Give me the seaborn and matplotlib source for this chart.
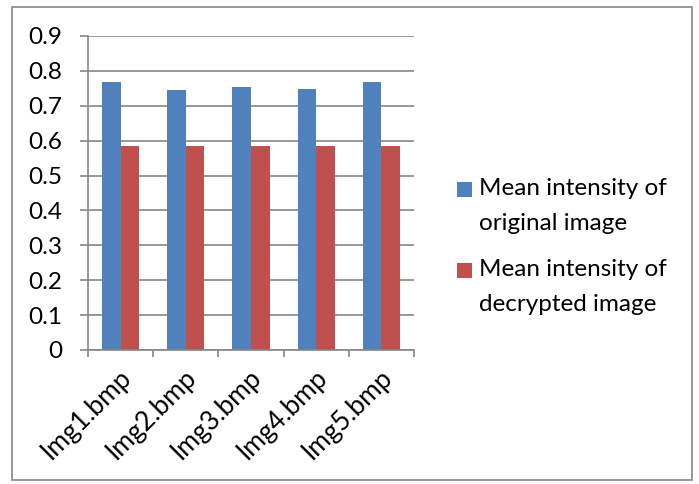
import matplotlib
matplotlib.use("Agg")
import matplotlib.pyplot as plt
import matplotlib.transforms as mtransforms
from matplotlib.patches import Rectangle
import seaborn as sns
import pandas as pd

# Mean pixel intensity per test image, before encryption and after decryption
images = ["Img1.bmp", "Img2.bmp", "Img3.bmp", "Img4.bmp", "Img5.bmp"]
original_mean = [0.768, 0.745, 0.753, 0.749, 0.768]
decrypted_mean = [0.585, 0.585, 0.585, 0.585, 0.585]
series_names = ["Mean intensity of\noriginal image",
                "Mean intensity of\ndecrypted image"]
y_ticks = [0, 0.1, 0.2, 0.3, 0.4, 0.5, 0.6, 0.7, 0.8, 0.9]
y_tick_labels = ["0", "0.1", "0.2", "0.3", "0.4", "0.5", "0.6", "0.7", "0.8", "0.9"]

colors = ["#4F81BD", "#C0504D"]
grey = "#868686"
fs = 17.5
fs_x = 19

df = pd.DataFrame({
    "image": images * 2,
    "value": original_mean + decrypted_mean,
    "series": [series_names[0]] * len(images) + [series_names[1]] * len(images),
})

sns.set_theme(style="white")
plt.rcParams["font.family"] = ["Lato", "DejaVu Sans"]

W, H = 699, 484
fig = plt.figure(figsize=(W / 100, H / 100), dpi=100)
fig.patch.set_facecolor("white")

def fx(px):
    return px / W

def fy(py):
    return 1 - py / H

# outer chart frame
fig.add_artist(Rectangle((fx(12), fy(480)), 680 / W, 473 / H,
                         transform=fig.transFigure, fill=False,
                         edgecolor=grey, linewidth=1.2))

ax = fig.add_axes([fx(88), fy(350), 326 / W, 314 / H])
sns.barplot(data=df, x="image", y="value", hue="series", palette=colors,
            saturation=1, width=0.57, linewidth=0, ax=ax, legend=False)

ax.set_xlim(-0.5, len(images) - 0.5)
ax.set_ylim(0, 0.9)
ax.set_xlabel("")
ax.set_ylabel("")
ax.set_axisbelow(True)
ax.yaxis.grid(True, color=grey, linewidth=1.2)
ax.xaxis.grid(False)

for side in ["top", "right"]:
    ax.spines[side].set_visible(False)
for side in ["left", "bottom"]:
    ax.spines[side].set_color(grey)
    ax.spines[side].set_linewidth(1.2)

ax.set_yticks(y_ticks, y_tick_labels)
ax.tick_params(axis="y", direction="out", length=5.8, width=1.2, color=grey,
               labelsize=fs, labelcolor="black", pad=13, left=True)

# category boundaries carry the tick marks; labels sit at the centres
ax.set_xticks([i - 0.5 for i in range(len(images) + 1)], minor=True)
ax.tick_params(axis="x", which="minor", direction="out", length=5.2,
               width=1.2, color=grey, bottom=True)
ax.tick_params(axis="x", which="major", length=0, labelsize=fs_x,
               labelcolor="black", pad=6)
ax.set_xticks(range(len(images)), images)
offset = mtransforms.ScaledTranslation(7 / 100, -15 / 100, fig.dpi_scale_trans)
for lab in ax.get_xticklabels():
    lab.set_rotation(45)
    lab.set_ha("right")
    lab.set_va("center")
    lab.set_rotation_mode("anchor")
    lab.set_transform(lab.get_transform() + offset)

# legend: colour square beside the first line of each two-line label
legend_rows = [182, 263]
for name, color, top in zip(series_names, colors, legend_rows):
    fig.add_artist(Rectangle((fx(457), fy(top + 15)), 15 / W, 15 / H,
                             transform=fig.transFigure, facecolor=color,
                             edgecolor="none"))
    fig.text(fx(479), fy(top - 4), name, ha="left", va="top", fontsize=fs,
             color="black", linespacing=1.8)

fig.savefig("out.png", dpi=100, facecolor="white")
